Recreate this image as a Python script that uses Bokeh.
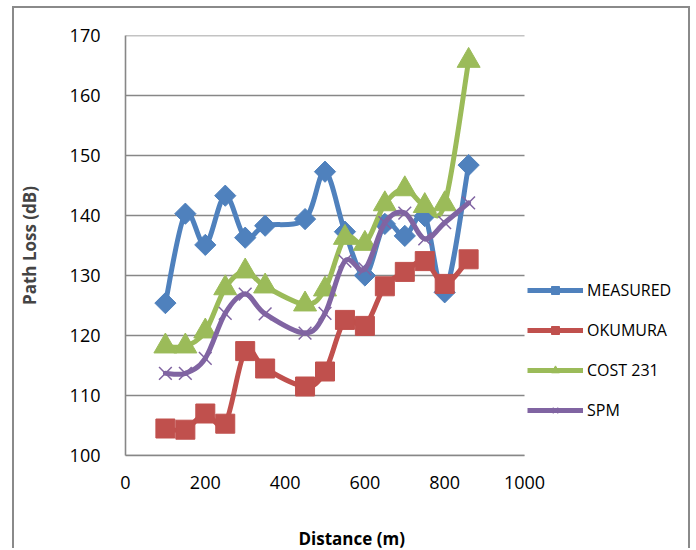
import numpy as np
from bokeh.plotting import figure
from bokeh.models import Legend, LegendItem, Title, FixedTicker, Range1d
from bokeh.embed import file_html
from bokeh.resources import INLINE

distance = [100, 150, 200, 250, 300, 350, 450, 500, 550, 600, 650, 700, 750, 800, 860]
measured = [125.4, 140.3, 135.1, 143.3, 136.3, 138.3, 139.4, 147.3, 137.3, 130.0, 138.6, 136.6, 139.9, 127.2, 148.4]
okumura = [104.5, 104.3, 107.0, 105.3, 117.4, 114.5, 111.5, 114.0, 122.6, 121.6, 128.2, 130.6, 132.4, 128.6, 132.7]
cost231 = [118.2, 118.2, 120.7, 127.9, 130.7, 128.2, 125.2, 127.7, 136.3, 135.3, 141.9, 144.4, 141.6, 141.9, 165.8]
spm = [113.7, 113.7, 116.2, 123.7, 126.9, 123.6, 120.4, 123.7, 132.4, 131.1, 138.8, 140.4, 136.1, 138.8, 142.1]

series_names = ["MEASURED", "OKUMURA", "COST 231", "SPM"]
x_ticks = [0, 200, 400, 600, 800, 1000]
y_ticks = [100, 110, 120, 130, 140, 150, 160, 170]

FONT = "Open Sans"
X_MIN, X_MAX = 0, 1000


def smooth(xs, ys):
    x = np.asarray(xs, float)
    y = np.asarray(ys, float)
    n = len(x)
    xp = np.concatenate([[x[0]], x, [x[-1]]])
    yp = np.concatenate([[y[0]], y, [y[-1]]])
    i = np.arange(n - 1)
    return dict(
        x0=x[:-1], y0=y[:-1], x1=x[1:], y1=y[1:],
        cx0=x[i] + (xp[i + 2] - xp[i]) / 6.0,
        cy0=y[i] + (yp[i + 2] - yp[i]) / 6.0,
        cx1=x[i + 1] - (xp[i + 3] - xp[i + 1]) / 6.0,
        cy1=y[i + 1] - (yp[i + 3] - yp[i + 1]) / 6.0,
    )


# frame extends to the right so the legend can sit inside it;
# axis span 0..1000 occupies 399 px of the 565 px frame
FRAME_W = 565
AXIS_PX = 399
p = figure(
    width=678, height=542,
    x_range=Range1d(X_MIN, X_MAX * FRAME_W / AXIS_PX), y_range=Range1d(100, 170),
    output_backend="svg", toolbar_location=None,
    min_border_left=111, min_border_right=2, min_border_top=27, min_border_bottom=95,
    margin=(6, 0, 0, 12),
    styles={"border-left": "2px solid #8a8a8a", "border-top": "2px solid #8a8a8a",
            "border-right": "2px solid #8a8a8a"},
)
p.outline_line_color = None
p.xgrid.grid_line_color = None
p.ygrid.grid_line_color = None
GRID = "#878787"
p.segment(x0=[X_MIN] * len(y_ticks), x1=[X_MAX] * len(y_ticks), y0=y_ticks, y1=y_ticks,
          line_color=GRID, line_width=1.6)

p.xaxis.ticker = FixedTicker(ticks=x_ticks)
p.yaxis.ticker = FixedTicker(ticks=y_ticks)
p.xaxis.bounds = (X_MIN, X_MAX)
for ax in (p.xaxis, p.yaxis):
    ax.axis_line_color = GRID
    ax.axis_line_width = 1.6
    ax.major_tick_line_color = None
    ax.minor_tick_line_color = None
    ax.major_label_text_font = FONT
    ax.major_label_text_font_size = "18px"
    ax.major_label_text_color = "#000000"
p.yaxis.major_label_standoff = 19
p.xaxis.major_label_standoff = 14
# spacer under the x tick labels so the title below sits lower
p.xaxis.axis_label = " "
p.xaxis.axis_label_text_font_size = "1px"
p.xaxis.axis_label_standoff = 28

p.yaxis.axis_label = "Path Loss (dB)"
p.yaxis.axis_label_text_font = FONT
p.yaxis.axis_label_text_font_style = "bold"
p.yaxis.axis_label_text_font_size = "17px"
p.yaxis.axis_label_standoff = 26

colors = ["#4F81BD", "#C0504D", "#9BBB59", "#8064A2"]
data = [measured, okumura, cost231, spm]
items = []
for name, ys, col in zip(series_names, data, colors):
    seg = smooth(distance, ys)
    p.bezier(line_color=col, line_width=5, line_cap="round", **seg)
    dummy = p.line(x=[np.nan], y=[np.nan], line_color=col, line_width=5)
    if name == "MEASURED":
        sr = p.scatter(distance, ys, marker="square", angle=np.pi / 4, size=15,
                       fill_color=col, line_color=col)
    elif name == "OKUMURA":
        sr = p.scatter(distance, ys, marker="square", size=19,
                       fill_color=col, line_color=col)
    elif name == "COST 231":
        sr = p.scatter(distance, ys, marker="triangle", size=23,
                       fill_color=col, line_color=col)
    else:
        sr = p.scatter(distance, ys, marker="x", size=18,
                       line_color=col, line_width=1.5)
    items.append(LegendItem(label=name, renderers=[dummy, sr]))

legend = Legend(items=items, location=(402, 34), glyph_width=56, glyph_height=20,
                spacing=18, padding=0, margin=0, label_standoff=4,
                border_line_color=None, background_fill_alpha=0,
                label_text_font=FONT, label_text_font_size="16px",
                label_text_color="#000000")
p.add_layout(legend)

xtitle = Title(text="Distance (m)", align="left", offset=173, standoff=2,
               text_font=FONT, text_font_style="bold", text_font_size="17px",
               text_color="#000000")
p.add_layout(xtitle, "below")

open("out.html", "w").write(file_html(p, INLINE))
